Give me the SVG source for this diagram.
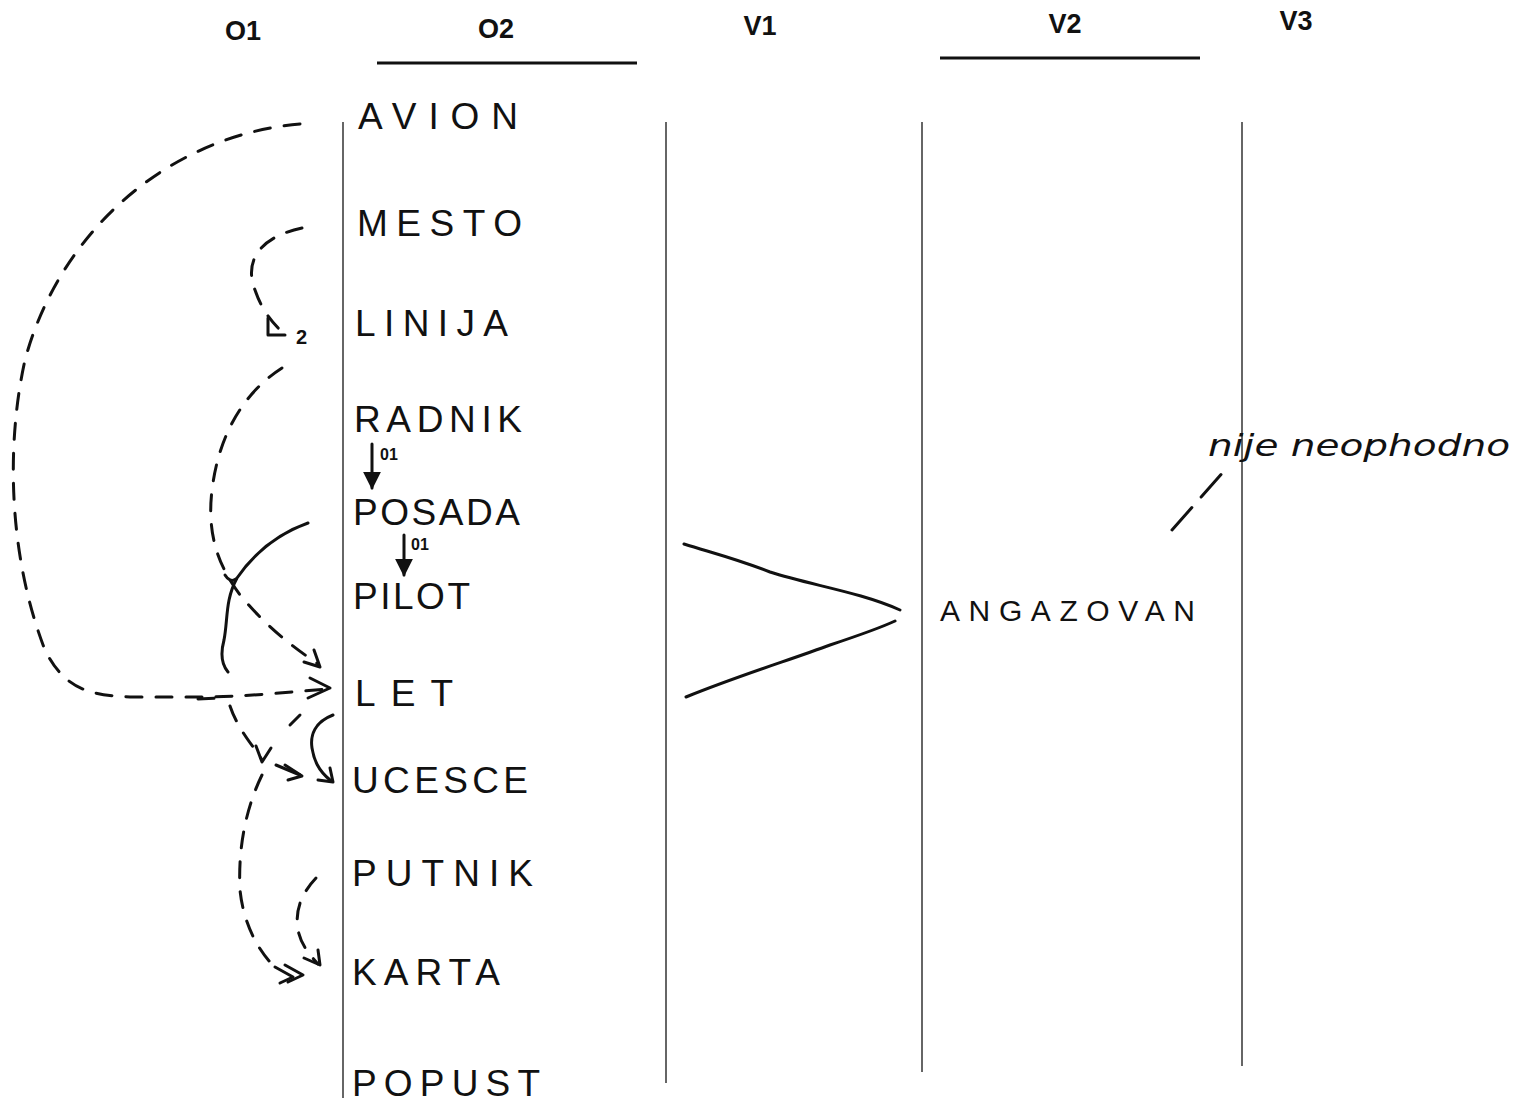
<svg xmlns="http://www.w3.org/2000/svg" width="1524" height="1104" viewBox="0 0 1524 1104">
<defs>
<style>
.hdr{font-family:"Liberation Sans",Arial,sans-serif;font-size:27px;font-weight:bold;fill:#111;text-anchor:middle}
.lbl{font-family:"Liberation Sans",Arial,sans-serif;font-size:37px;fill:#111}
.sm{font-family:"Liberation Sans",Arial,sans-serif;font-size:16px;font-weight:bold;fill:#111}
.note{font-family:"DejaVu Sans",sans-serif;font-size:30px;font-style:italic;fill:#111}
.col{stroke:#333;stroke-width:1.5;fill:none}
.ul{stroke:#111;stroke-width:3;fill:none}
.dash{stroke:#111;stroke-width:3;fill:none;stroke-dasharray:16 14;stroke-linecap:round}
.solid{stroke:#111;stroke-width:3;fill:none;stroke-linecap:round}
.head{stroke:#111;stroke-width:3;fill:none;stroke-linecap:round;stroke-linejoin:round}
</style>
<marker id="ah" viewBox="0 0 10 10" refX="9" refY="5" markerWidth="6" markerHeight="6" orient="auto"><path d="M0,0 L10,5 L0,10 z" fill="#111"/></marker>
</defs>
<rect width="1524" height="1104" fill="#fff"/>

<g id="headers">
<text class="hdr" x="243" y="40">O1</text>
<text class="hdr" x="496" y="38">O2</text>
<text class="hdr" x="760" y="35">V1</text>
<text class="hdr" x="1065" y="33">V2</text>
<text class="hdr" x="1296" y="30">V3</text>
<line class="ul" x1="377" y1="63" x2="637" y2="63"/>
<line class="ul" x1="940" y1="58" x2="1200" y2="58"/>
</g>

<g id="columns">
<line class="col" x1="343" y1="122" x2="343" y2="1098"/>
<line class="col" x1="666" y1="122" x2="666" y2="1083"/>
<line class="col" x1="922" y1="122" x2="922" y2="1072"/>
<line class="col" x1="1242" y1="122" x2="1242" y2="1066"/>
</g>

<g id="node-avion"><text class="lbl" x="358" y="129" textLength="160" lengthAdjust="spacing">AVION</text></g>
<g id="node-mesto"><text class="lbl" x="357" y="236" textLength="165" lengthAdjust="spacing">MESTO</text></g>
<g id="node-linija"><text class="lbl" x="355" y="336" textLength="153" lengthAdjust="spacing">LINIJA</text></g>
<g id="node-radnik"><text class="lbl" x="354" y="432" textLength="168" lengthAdjust="spacing">RADNIK</text></g>
<g id="node-posada"><text class="lbl" x="353" y="525" textLength="167" lengthAdjust="spacing">POSADA</text></g>
<g id="node-pilot"><text class="lbl" x="353" y="609" textLength="117" lengthAdjust="spacing">PILOT</text></g>
<g id="node-let"><text class="lbl" x="355" y="706" textLength="98" lengthAdjust="spacing">LET</text></g>
<g id="node-ucesce"><text class="lbl" x="352" y="793" textLength="176" lengthAdjust="spacing">UCESCE</text></g>
<g id="node-putnik"><text class="lbl" x="352" y="886" textLength="181" lengthAdjust="spacing">PUTNIK</text></g>
<g id="node-karta"><text class="lbl" x="352" y="985" textLength="148" lengthAdjust="spacing">KARTA</text></g>
<g id="node-popust"><text class="lbl" x="352" y="1096" textLength="188" lengthAdjust="spacing">POPUST</text></g>
<g id="node-angazovan"><text class="lbl" x="940" y="621" style="font-size:30px" textLength="255" lengthAdjust="spacing">ANGAZOVAN</text></g>
<g id="note"><text class="note" x="1208" y="456" textLength="302" lengthAdjust="spacingAndGlyphs">nije neophodno</text></g>

<g id="connectors">
<line class="solid" x1="372" y1="444" x2="372" y2="488" marker-end="url(#ah)"/>
<text class="sm" x="380" y="460">01</text>
<line class="solid" x1="404" y1="535" x2="404" y2="575" marker-end="url(#ah)"/>
<text class="sm" x="411" y="550">01</text>
<path class="solid" d="M684,544 C720,555 740,560 770,572 C810,585 860,592 900,610"/>
<path class="solid" d="M686,697 C740,675 790,660 830,645 C860,635 880,628 895,621"/>
<line class="dash" x1="1172" y1="530" x2="1225" y2="470" style="stroke-dasharray:30 14"/>
<path class="dash" d="M300,124 C170,135 60,230 25,360 C5,450 10,560 45,650 C65,690 90,695 130,697 L205,697 C240,697 290,692 328,689"/>
<path class="head" d="M310,678 L330,688 L308,698"/>
<path class="dash" d="M302,228 C255,238 245,265 255,290 C262,310 270,320 282,332"/>
<path class="head" d="M268,318 L268,335 L285,335"/>
<text class="sm" x="296" y="344" style="font-size:20px">2</text>
<path class="dash" d="M282,368 C240,395 218,440 212,490 C206,540 222,570 240,595 C265,625 290,645 318,664"/>
<path class="head" d="M304,662 L320,667 L314,650"/>
<path class="solid" d="M308,523 C280,533 255,552 237,578 C225,600 228,620 224,640 C220,655 222,665 228,672"/>
<path class="solid" d="M225,575 C228,580 232,582 236,579"/>
<path class="dash" d="M198,699 L222,698 M230,706 C238,730 255,748 262,760"/>
<path class="head" d="M256,746 L262,762 L271,748"/>
<path class="dash" d="M276,765 L300,775" style="stroke-dasharray:30 10"/>
<path class="head" d="M285,765 L302,776 L288,780"/>
<path class="dash" d="M300,715 L290,725"/>
<path class="solid" d="M333,715 C315,722 310,735 312,748 C314,760 318,770 330,780"/>
<path class="head" d="M318,780 L333,782 L330,768"/>
<path class="dash" d="M262,775 C245,810 238,850 240,890 C243,920 255,945 270,962"/>
<path class="head" d="M285,965 L303,975 L288,982"/>
<path class="head" d="M275,967 L293,977 L280,983"/>
<path class="dash" d="M316,878 C300,895 295,912 298,930 C301,945 310,955 318,964"/>
<path class="head" d="M304,958 L320,965 L318,950"/>
</g>
</svg>
